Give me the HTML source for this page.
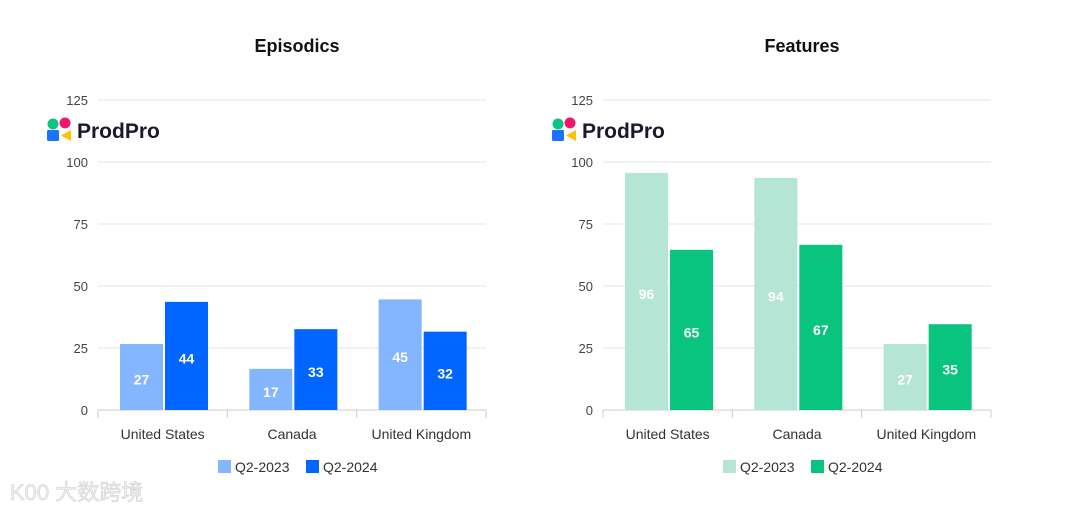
<!DOCTYPE html>
<html><head><meta charset="utf-8"><style>
body{margin:0;background:#fff;width:1080px;height:512px;overflow:hidden;font-family:"Liberation Sans",sans-serif}
svg text{font-family:"Liberation Sans","Noto Sans CJK SC",sans-serif}
</style></head><body>
<svg id="c" width="1080" height="512"></svg>
<script>
const categories=["United States","Canada","United Kingdom"];
const seriesNames=["Q2-2023","Q2-2024"];
const episodics2023=[27,17,45];
const episodics2024=[44,33,32];
const features2023=[96,94,27];
const features2024=[65,67,35];
const ticks=[0,25,50,75,100,125];
const NS="http://www.w3.org/2000/svg";
const svg=document.getElementById('c');
function mk(tag,attrs,parent,text){const e=document.createElementNS(NS,tag);for(const k in attrs)e.setAttribute(k,attrs[k]);if(text!==undefined)e.textContent=text;(parent||svg).appendChild(e);return e;}
function chart(x0,title,s1,s2,c1,c2,name){
  const g=mk('g',{});
  
  
  const x1=x0+388, yB=410, yT=100;
  const y=v=>yB-(v/125)*(yB-yT);
  const t=mk('text',{x:(x0+x1)/2+5,y:52,'text-anchor':'middle','font-size':18,'font-weight':'bold',fill:'#111'},g,title);
  
  
  ticks.forEach(v=>{
    const l=mk('line',{x1:x0,x2:x1,y1:y(v),y2:y(v),stroke:v===0?'#ccc':'#e6e6e6','stroke-width':1},g);
    
    
    const tl=mk('text',{x:x0-10,y:y(v)+5,'text-anchor':'end','font-size':13,fill:'#444'},g,v);
    
    
  });
  const gw=(x1-x0)/categories.length;
  for(let i=0;i<=categories.length;i++){mk('line',{x1:x0+i*gw,x2:x0+i*gw,y1:yB,y2:yB+8,stroke:'#ccc'},g);}
  categories.forEach((c,i)=>{
    const gx=x0+i*gw;
    [[s1[i],c1,0],[s2[i],c2,1]].forEach(([v,col,j])=>{
      const bx=gx+22+j*45;
      const r=mk('rect',{x:bx,y:y(v)+1,width:43,height:yB-y(v)-1,fill:col},g);
      
      
      const lb=mk('text',{x:bx+21.5,y:(y(v)+yB)/2+8,'text-anchor':'middle','font-size':14,'font-weight':'bold',fill:'#fff'},g,v);
      
      
    });
    const xl=mk('text',{x:gx+gw/2,y:439,'text-anchor':'middle','font-size':14,fill:'#333'},g,c);
    
    
  });
  const lx=x0+120;
  [[c1,0,lx],[c2,1,lx+88]].forEach(([col,j,px])=>{
    const le=mk('g',{},g);
    
    
    mk('rect',{x:px,y:460,width:13,height:13,fill:col},le);
    mk('text',{x:px+17,y:472,'font-size':14,fill:'#333'},le,seriesNames[j]);
  });
  const lg=mk('g',{},g);
  
  
  const lx0=x0-51;
  mk('circle',{cx:lx0+6,cy:124,r:5.5,fill:'#0ac47f'},lg);
  mk('circle',{cx:lx0+18,cy:123,r:5.5,fill:'#f0176b'},lg);
  mk('rect',{x:lx0,y:130,width:12,height:11,rx:1.5,fill:'#1a73ff'},lg);
  mk('polygon',{points:`${lx0+14},135.5 ${lx0+24},130 ${lx0+24},141`,fill:'#ffc107'},lg);
  mk('text',{x:lx0+30,y:138,'font-size':21,'font-weight':'bold',fill:'#1a1a2e'},lg,'ProdPro');
}
chart(98,'Episodics',episodics2023,episodics2024,'#84b5ff','#0066ff','episodics');
chart(603,'Features',features2023,features2024,'#b4e5d5','#08c47f','features');
const wm=mk('text',{x:10,y:500,'font-size':22,fill:'#eee',stroke:'#ccc','stroke-width':0.5},svg,'K00 大数跨境');


</script>
</body></html>
